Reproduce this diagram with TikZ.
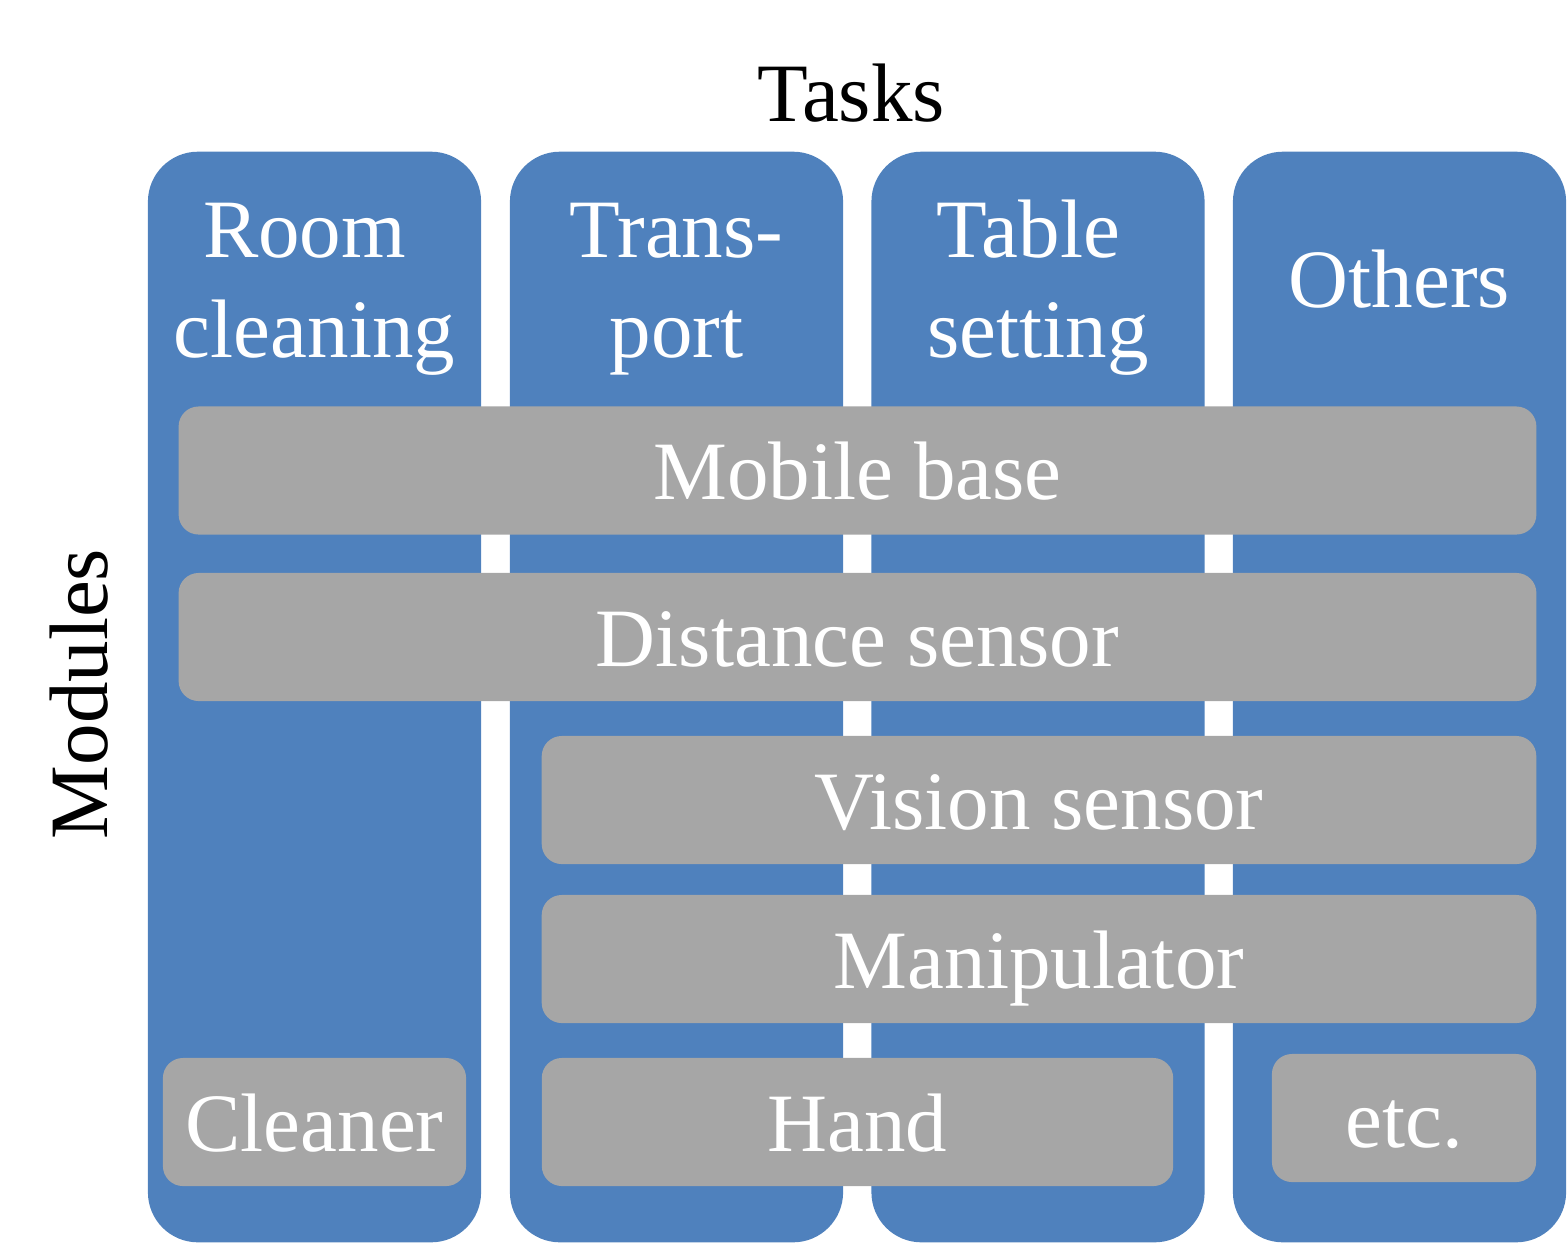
\documentclass[tikz,border=0pt]{standalone}
\usepackage{fontspec}
\setmainfont{Liberation Serif}
\definecolor{colblue}{RGB}{79,129,189}
\definecolor{modgray}{RGB}{166,166,166}
\begin{document}
\begin{tikzpicture}[x=0.01cm,y=-0.01cm,
  bigfont/.style={font=\fontsize{23.6}{28.2}\selectfont},
  column/.style={fill=colblue,draw=none,rounded corners=0.5cm,minimum width=3.33cm,minimum height=10.9cm,inner sep=0pt},
  collabel/.style={bigfont,text=white,align=center,anchor=base},
  module/.style={fill=modgray,draw=none,rounded corners=0.2cm,inner sep=0pt,minimum height=1.28cm,text height=0.93cm,text depth=0.35cm,text=white,bigfont},
  heading/.style={bigfont,text=black,anchor=base}]
\useasboundingbox (0,0) rectangle (1567,1242);
% columns
\node[column] (c1) at (314.5,697) {};
\node[column] (c2) at (676.5,697) {};
\node[column] (c3) at (1038,697) {};
\node[column] (c4) at (1399.5,697) {};
% column labels
\node[collabel] (l1) at (314.5,357) {Room\hspace*{0.2cm}\\cleaning};
\node[collabel] (l2) at (676.5,357) {Trans-\\port};
\node[collabel] (l3) at (1038,357) {Table\hspace*{0.19cm}\\setting};
\node[collabel] (l4) at (1399.5,307) {Others};
% modules
\node[module,minimum width=13.57cm] (mb) at (857.5,470.5) {Mobile base};
\node[module,minimum width=13.57cm] (ds) at (857.5,637) {Distance sensor};
\node[module,minimum width=9.94cm] (vs) at (1039,800) {Vision sensor};
\node[module,minimum width=9.94cm] (mp) at (1039,959) {Manipulator};
\node[module,minimum width=6.31cm] (hd) at (857.5,1122) {Hand};
\node[module,minimum width=3.03cm] (cl) at (314.5,1122) {Cleaner};
\node[module,minimum width=2.64cm] (etc) at (1404,1118) {etc.};
% headings
\node[heading] (tasks) at (851,121) {Tasks};
\node[heading,rotate=90] (modules) at (107,694) {Modules};
\end{tikzpicture}
\end{document}
